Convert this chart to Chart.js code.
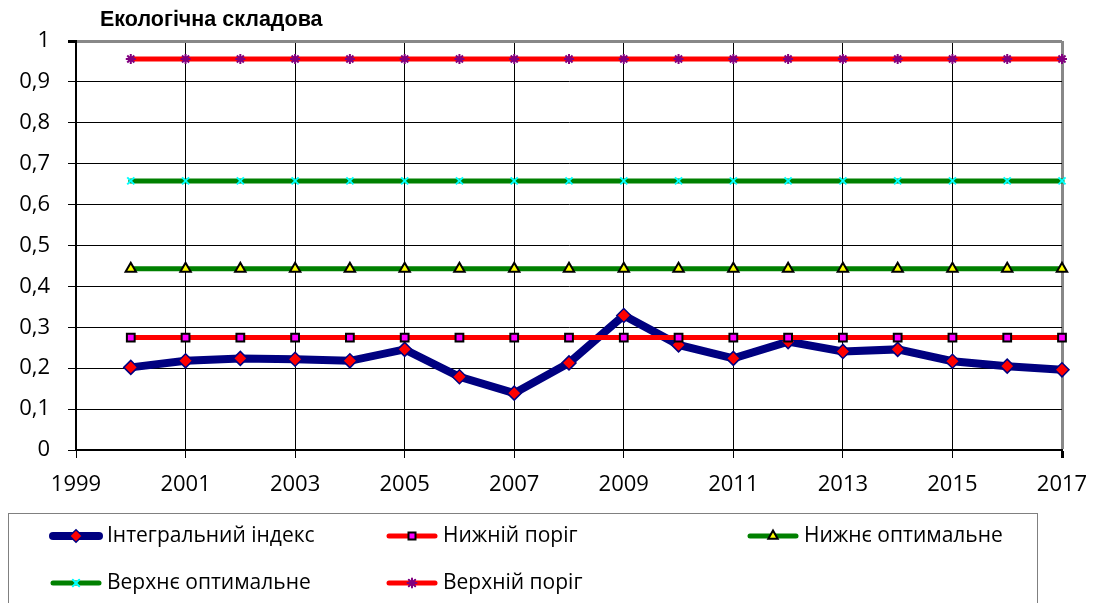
<!DOCTYPE html>
<html>
<head>
<meta charset="utf-8">
<script src="https://cdn.jsdelivr.net/npm/chart.js@4"></script>
<style>
  html, body { margin: 0; padding: 0; background: #fff; }
  #wrap { width: 1093px; height: 603px; position: relative; overflow: hidden; }
</style>
</head>
<body>
<div id="wrap"><canvas id="chart" width="1093" height="603"></canvas></div>
<script>
/* Екологічна складова — графік */

const YEARS = [2000, 2001, 2002, 2003, 2004, 2005, 2006, 2007, 2008, 2009, 2010, 2011, 2012, 2013, 2014, 2015, 2016, 2017];
const INTEGRAL = [0.202, 0.218, 0.224, 0.222, 0.218, 0.246, 0.179, 0.139, 0.213, 0.329, 0.257, 0.224, 0.265, 0.241, 0.246, 0.217, 0.205, 0.196];
const LOWER_THRESHOLD = 0.275;
const LOWER_OPTIMAL = 0.443;
const UPPER_OPTIMAL = 0.658;
const UPPER_THRESHOLD = 0.956;

const TITLE = "Екологічна складова";
const NAMES = ["Інтегральний індекс", "Нижній поріг", "Нижнє оптимальне", "Верхнє оптимальне", "Верхній поріг"];

const TICK_FONT = { family: "'Open Sans', sans-serif", size: 22 };

function pts(vals) {
  return YEARS.map((y, i) => ({ x: y, y: Array.isArray(vals) ? vals[i] : vals }));
}

const datasets = [
  {
    label: NAMES[0], data: pts(INTEGRAL), order: 9,
    borderColor: "#000080", borderWidth: 8,
    pointStyle: "rectRot", pointRadius: 7, pointBackgroundColor: "#ff0000",
    pointBorderColor: "#000080", pointBorderWidth: 1.5,
  },
  {
    label: NAMES[1], data: pts(LOWER_THRESHOLD), order: 1,
    borderColor: "#ff0000", borderWidth: 5,
    pointStyle: "rect", pointRadius: 5.5, pointBackgroundColor: "#ff00ff",
    pointBorderColor: "#000000", pointBorderWidth: 2,
  },
  {
    label: NAMES[2], data: pts(LOWER_OPTIMAL), order: 2,
    borderColor: "#008000", borderWidth: 5,
    pointStyle: "triangle", pointRadius: 6, pointBackgroundColor: "#ffff00",
    pointBorderColor: "#000000", pointBorderWidth: 2,
  },
  {
    label: NAMES[3], data: pts(UPPER_OPTIMAL), order: 3,
    borderColor: "#008000", borderWidth: 5,
    pointStyle: "crossRot", pointRadius: 5, pointBackgroundColor: "#00ffff",
    pointBorderColor: "#00ffff", pointBorderWidth: 2,
  },
  {
    label: NAMES[4], data: pts(UPPER_THRESHOLD), order: 4,
    borderColor: "#ff0000", borderWidth: 5,
    pointStyle: "star", pointRadius: 5, pointBackgroundColor: "#800080",
    pointBorderColor: "#800080", pointBorderWidth: 2,
  },
];
datasets.forEach((d) => { d.fill = false; d.tension = 0; d.borderCapStyle = "round"; d.clip = false; });

/* ── заголовок і легенда ── */
const LEGEND_POS = [
  [49, 536], [385, 536], [746, 536],
  [49, 583], [385, 583],
];

const overlay = {
  id: "overlay",
  afterDraw(chart) {
    const ctx = chart.ctx;
    ctx.save();
    ctx.fillStyle = "#000";
    ctx.font = "bold 21.5px 'Liberation Sans', Arial, sans-serif";
    ctx.textBaseline = "middle";
    ctx.textAlign = "left";
    ctx.fillText(TITLE, 100, 20);

    // рамка легенди
    ctx.strokeStyle = "#808080";
    ctx.lineWidth = 1;
    ctx.strokeRect(8.5, 513.5, 1029, 200);

    ctx.font = "21px 'Open Sans', sans-serif";
    datasets.forEach((d, i) => {
      const [x, y] = LEGEND_POS[i];
      const w = 54;
      ctx.strokeStyle = d.borderColor;
      ctx.lineWidth = i === 0 ? 8 : 5;
      ctx.lineCap = "round";
      ctx.beginPath();
      ctx.moveTo(x + 4, y);
      ctx.lineTo(x + w - 4, y);
      ctx.stroke();
      ctx.fillStyle = d.pointBackgroundColor;
      ctx.strokeStyle = d.pointBorderColor;
      ctx.lineWidth = d.pointBorderWidth;
      Chart.helpers.drawPoint(ctx, { pointStyle: d.pointStyle, radius: d.pointRadius * 0.9, rotation: 0, borderWidth: d.pointBorderWidth }, x + w / 2, y);
      ctx.fillStyle = "#000";
      ctx.fillText(d.label, x + w + 4, y);
    });
    ctx.restore();
  },
};

new Chart(document.getElementById("chart"), {
  type: "line",
  data: { datasets },
  options: {
    responsive: false,
    animation: false,
    layout: { padding: { left: 0, top: 41, right: 31, bottom: 103 } },
    plugins: { legend: { display: false }, tooltip: { enabled: false }, title: { display: false } },
    scales: {
      x: {
        type: "linear", min: 1999, max: 2017,
        afterFit: (s) => { s.height = 50; s.paddingLeft = 0; s.paddingRight = 0; },
        ticks: { stepSize: 2, color: "#000", font: TICK_FONT, padding: 14, maxRotation: 0, callback: (v) => String(v) },
        grid: {
          color: (c) => (c.tick && c.tick.value === 2017 ? "#888888" : "#000"),
          lineWidth: (c) => (c.tick && c.tick.value === 2017 ? 3 : 1),
          tickColor: "#000", tickLength: 8, drawTicks: true,
        },
        border: { display: true, color: "#000", width: 2 },
      },
      y: {
        min: 0, max: 1,
        afterFit: (s) => { s.width = 76; s.paddingTop = 0; s.paddingBottom = 0; },
        ticks: {
          stepSize: 0.1, color: "#000", font: TICK_FONT, padding: 18,
          callback: (v) => String(Math.round(v * 10) / 10).replace(".", ","),
        },
        grid: {
          color: (c) => (c.tick && c.tick.value === 1 ? "#888888" : "#000"),
          lineWidth: (c) => (c.tick && c.tick.value === 1 ? 3 : 1),
          tickColor: "#000", tickLength: 8, drawTicks: true,
        },
        border: { display: true, color: "#000", width: 2 },
      },
    },
  },
  plugins: [overlay],
});
</script>
</body>
</html>
